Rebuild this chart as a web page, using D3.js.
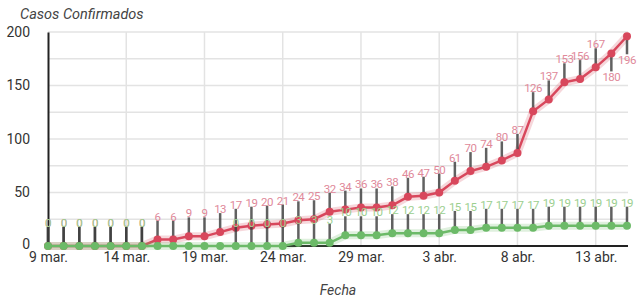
<!DOCTYPE html>
<html>
<head>
<meta charset="utf-8">
<script src="https://cdnjs.cloudflare.com/ajax/libs/d3/7.8.5/d3.min.js"></script>
<style>
  body { margin: 0; background: #fff; }
  text { font-family: Roboto, "Noto Sans", sans-serif; }
</style>
</head>
<body>
<div id="chart"></div>
<script>
// days shown on the chart
var dates = ["2020-03-09","2020-03-10","2020-03-11","2020-03-12","2020-03-13","2020-03-14","2020-03-15",
    "2020-03-16","2020-03-17","2020-03-18","2020-03-19","2020-03-20","2020-03-21","2020-03-22","2020-03-23",
    "2020-03-24","2020-03-25","2020-03-26","2020-03-27","2020-03-28","2020-03-29","2020-03-30","2020-03-31",
    "2020-04-01","2020-04-02","2020-04-03","2020-04-04","2020-04-05","2020-04-06","2020-04-07","2020-04-08",
    "2020-04-09","2020-04-10","2020-04-11","2020-04-12","2020-04-13","2020-04-14","2020-04-15"];

// confirmed cases (red) and the green series
var confirmados = [0,0,0,0,0,0,0,6,6,9,9,13,17,19,20,21,24,25,32,34,36,36,38,46,47,50,61,70,74,80,87,126,137,153,156,167,180,196];
var verdes = [0,0,0,0,0,0,0,0,0,0,0,0,0,0,0,0,3,3,3,10,10,10,12,12,12,12,15,15,17,17,17,17,19,19,19,19,19,19];

// x tick labels
var tickDates = ["2020-03-09","2020-03-14","2020-03-19","2020-03-24","2020-03-29","2020-04-03","2020-04-08","2020-04-13"];
var tickLabels = ["9 mar.","14 mar.","19 mar.","24 mar.","29 mar.","3 abr.","8 abr.","13 abr."];
var yTicks = [0,50,100,150,200];
var yGrid = [0,25,50,75,100,125,150,175,200];

var width = 639, height = 302;
var parse = d3.timeParse("%Y-%m-%d");

var svg = d3.select("#chart")
    .append("svg")
        .attr("width", width)
        .attr("height", height);

var x = d3.scaleTime()
    .domain([parse(dates[0]), parse(dates[dates.length - 1])])
    .range([48, 627]);

var y = d3.scaleLinear()
    .domain([0, 200])
    .range([246, 32]);

// grid
svg.append("g")
    .selectAll("line")
    .data(yGrid)
    .enter()
    .append("line")
    .attr("x1", 48).attr("x2", 628)
    .attr("y1", function(d) { return y(d); })
    .attr("y2", function(d) { return y(d); })
    .attr("stroke", "#e3e3e3")
    .attr("stroke-width", 1.5);

svg.append("g")
    .selectAll("line")
    .data(tickDates.slice(1))
    .enter()
    .append("line")
    .attr("x1", function(d) { return x(parse(d)); })
    .attr("x2", function(d) { return x(parse(d)); })
    .attr("y1", y(200)).attr("y2", y(0))
    .attr("stroke", "#e3e3e3")
    .attr("stroke-width", 1.5);

// y axis
var yAxis = svg.append("g")
    .attr("transform", "translate(48,0)")
    .call(d3.axisLeft(y).tickValues(yTicks).tickSize(0).tickPadding(18));
yAxis.select(".domain").attr("stroke", "#222").attr("stroke-width", 2);
yAxis.selectAll("text").attr("font-size", 14).attr("fill", "#333");
// lift the zero a little so it clears the first date
yAxis.selectAll("text").filter(function(d) { return d === 0; }).attr("dy", "0.2em");

// x axis
var xAxis = svg.append("g")
    .attr("transform", "translate(0," + y(0) + ")")
    .call(d3.axisBottom(x)
        .tickValues(tickDates.map(parse))
        .tickSize(0)
        .tickPadding(6)
        .tickFormat(function(d, i) { return tickLabels[i]; }));
xAxis.select(".domain").attr("stroke", "#222").attr("stroke-width", 2).attr("d", "M48,0H628");
xAxis.selectAll("text").attr("font-size", 14).attr("fill", "#333");

// axis titles
svg.append("text")
    .attr("x", 20).attr("y", 19)
    .attr("font-size", 14.5)
    .attr("font-style", "italic")
    .attr("fill", "#444")
    .text("Casos Confirmados");

svg.append("text")
    .attr("x", 338).attr("y", 295)
    .attr("text-anchor", "middle")
    .attr("font-size", 14)
    .attr("font-style", "italic")
    .attr("fill", "#444")
    .text("Fecha");

function rows(values) {
    return values.map(function(v, i) {
        return {date: parse(dates[i]), value: v};
    });
}

var line = d3.line()
    .x(function(d) { return x(d.date); })
    .y(function(d) { return y(d.value); });

// label goes below the point when there is no room above
function labelBelow(d) {
    return y(d.value) - 23 < 38;
}

function drawSeries(data, color, labelColor, showLabel) {
    var g = svg.append("g");

    // soft halo under the line
    g.append("path")
        .datum(data)
        .attr("fill", "none")
        .attr("stroke", color)
        .attr("stroke-opacity", 0.22)
        .attr("stroke-width", 8)
        .attr("d", line);

    g.append("path")
        .datum(data)
        .attr("fill", "none")
        .attr("stroke", color)
        .attr("stroke-width", 2.5)
        .attr("d", line);

    var shown = data.filter(showLabel);

    // stems from the point to the label
    g.selectAll("line.stem")
        .data(shown)
        .enter()
        .append("line")
        .attr("class", "stem")
        .attr("x1", function(d) { return x(d.date); })
        .attr("x2", function(d) { return x(d.date); })
        .attr("y1", function(d) { return y(d.value); })
        .attr("y2", function(d) { return labelBelow(d) ? y(d.value) + 18 : y(d.value) - 19; })
        .attr("stroke", "#3a3a3a")
        .attr("stroke-opacity", 0.8)
        .attr("stroke-width", 2.5);

    g.selectAll("circle")
        .data(data)
        .enter()
        .append("circle")
        .attr("cx", function(d) { return x(d.date); })
        .attr("cy", function(d) { return y(d.value); })
        .attr("r", 4)
        .attr("fill", color);

    g.selectAll("text")
        .data(shown)
        .enter()
        .append("text")
        .attr("x", function(d) { return x(d.date); })
        .attr("y", function(d) { return labelBelow(d) ? y(d.value) + 28 : y(d.value) - 19; })
        .attr("text-anchor", "middle")
        .attr("font-size", 11.5)
        .attr("letter-spacing", -0.5)
        .attr("fill", labelColor)
        .text(function(d) { return d.value; });
}

var red = rows(confirmados);
var green = rows(verdes);

drawSeries(red, "#d8475c", "#e0899a", function() { return true; });
// green labels are hidden where they would collide with the red ones
drawSeries(green, "#6cba68", "#9ccf90", function(d, i) {
    return red[i].value === d.value || Math.abs(y(red[i].value) - y(d.value)) > 14;
});
</script>
</body>
</html>
